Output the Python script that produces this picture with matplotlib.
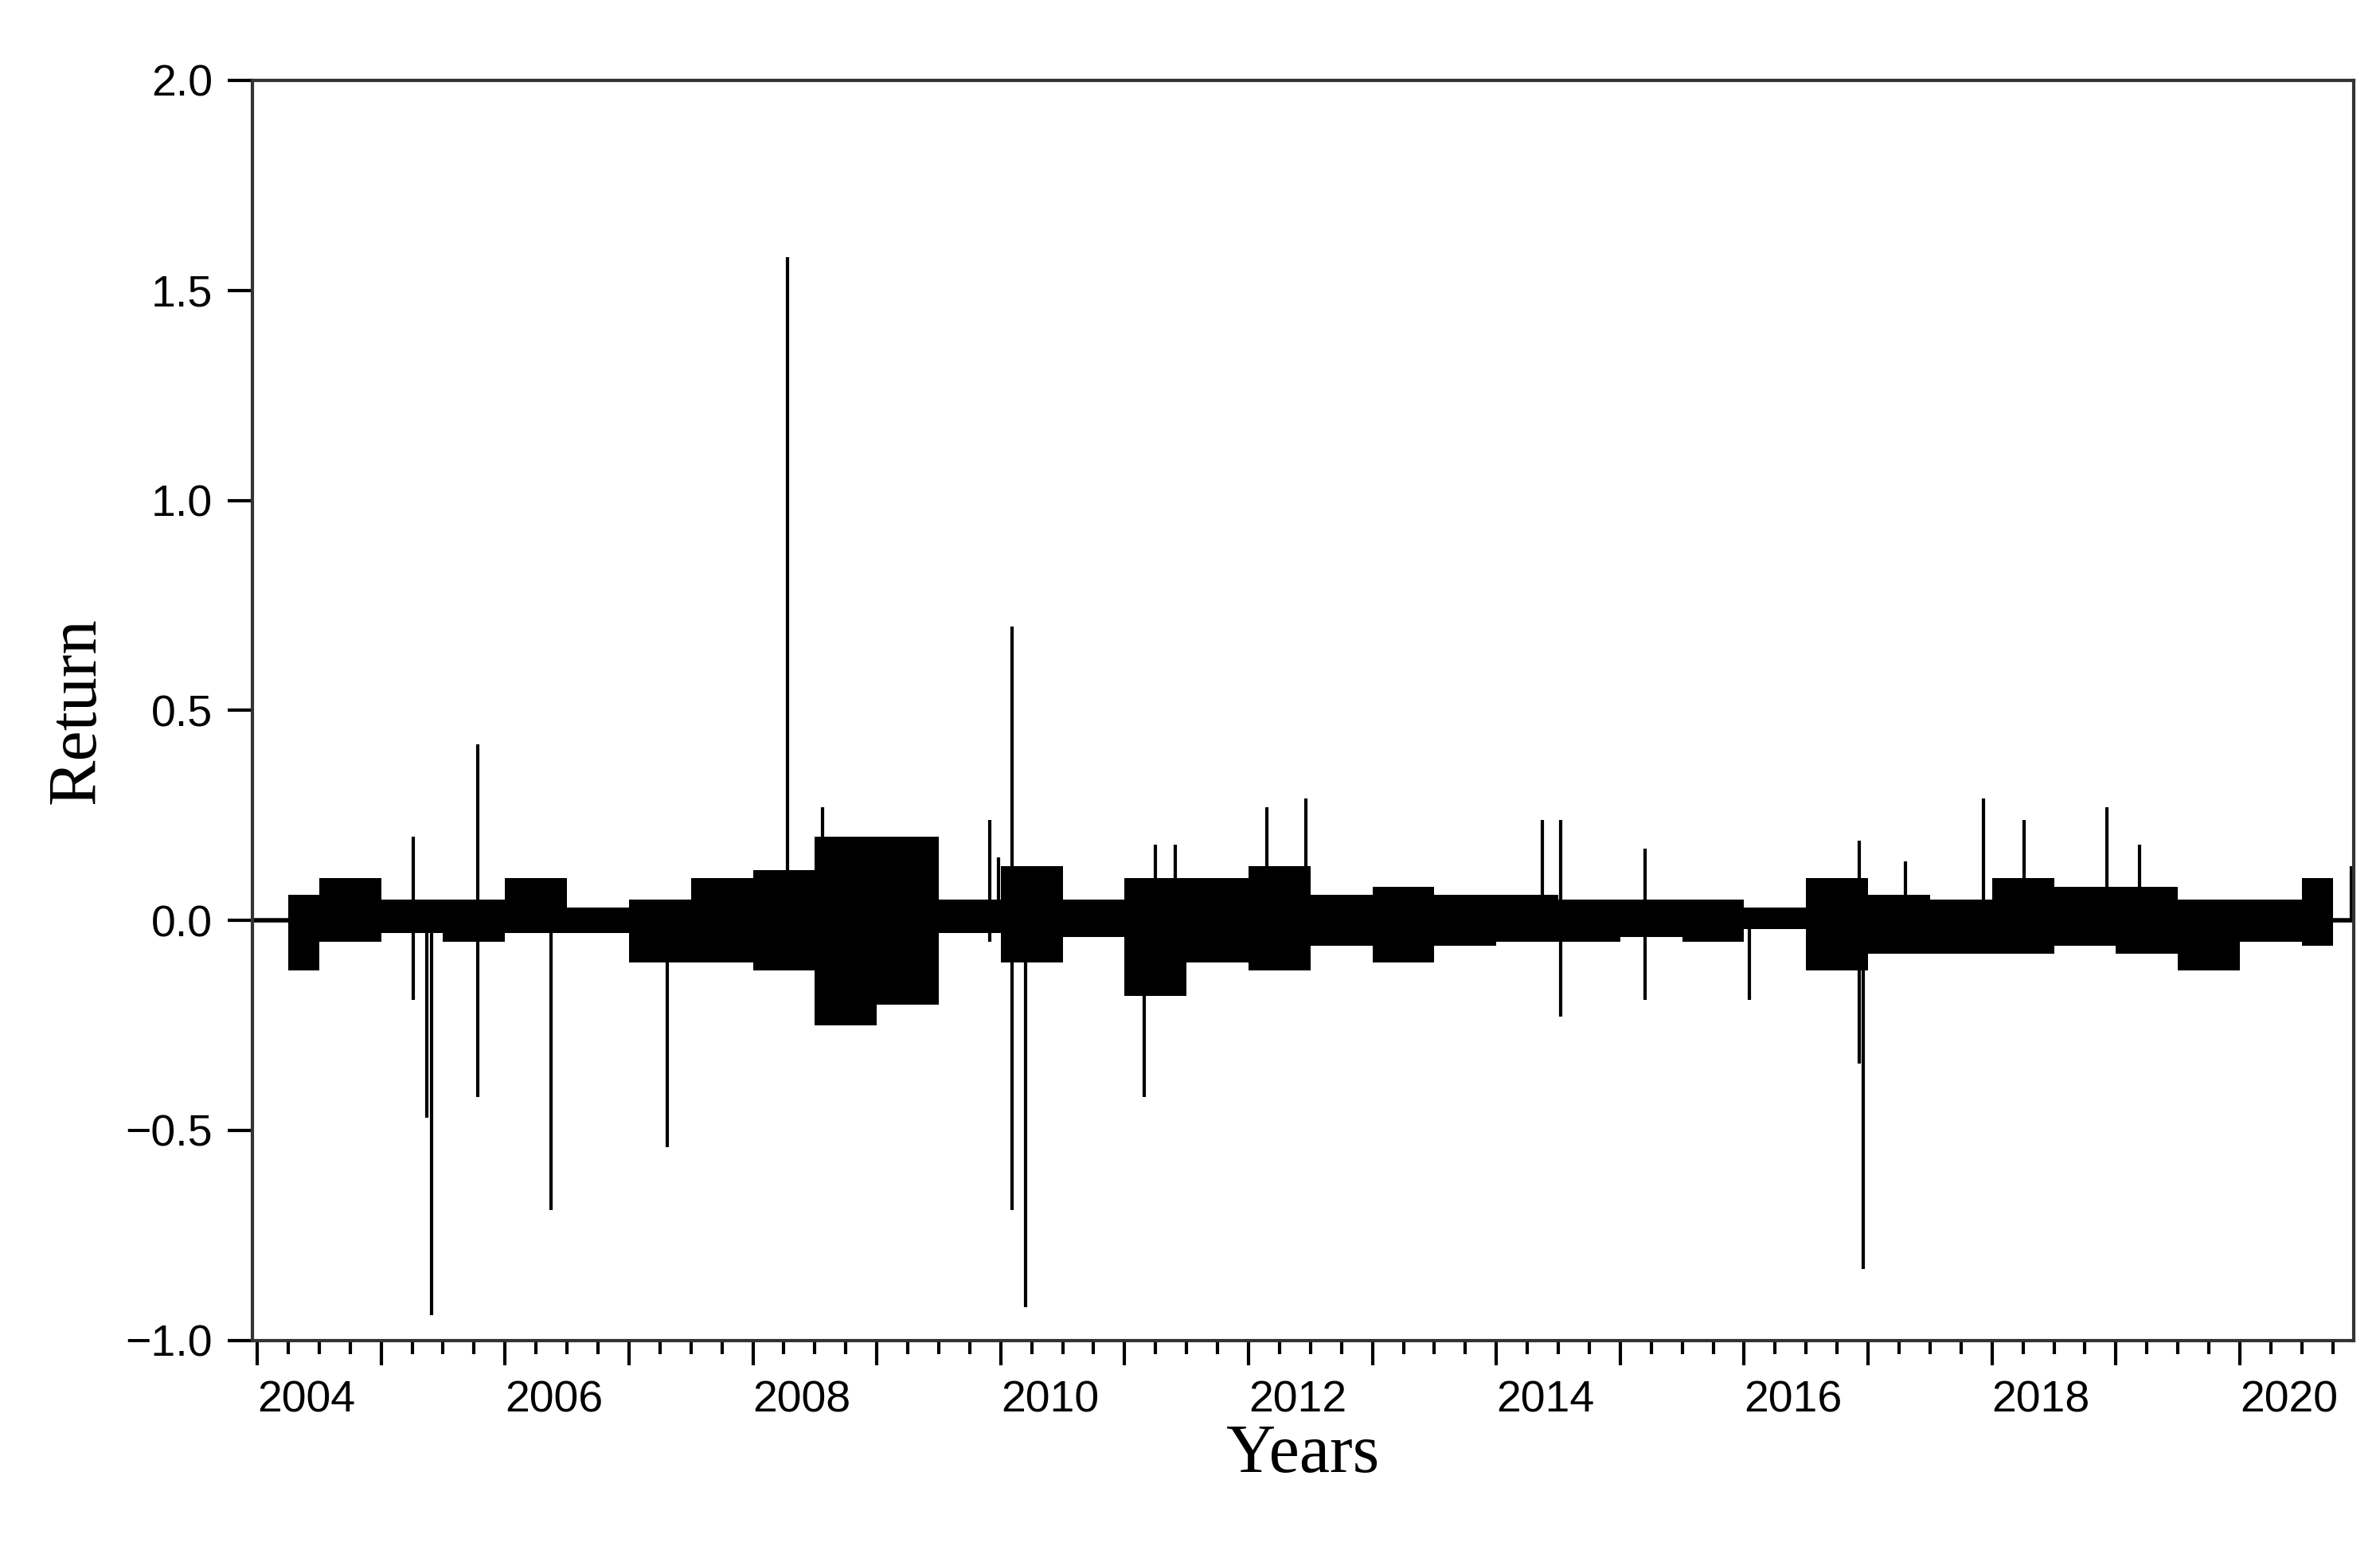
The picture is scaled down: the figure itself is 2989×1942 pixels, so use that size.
import matplotlib
matplotlib.use("Agg")
import matplotlib.pyplot as plt
from matplotlib.ticker import MultipleLocator

# Half-year envelope of the dense return band (mid of period, high, low)
band_mid = [2004.25 + 0.5 * i for i in range(34)]
band_high = [0.06, 0.10, 0.05, 0.05, 0.10, 0.03, 0.05, 0.10, 0.12, 0.20,
             0.20, 0.05, 0.13, 0.05, 0.10, 0.10, 0.13, 0.06, 0.08, 0.06,
             0.06, 0.05, 0.05, 0.05, 0.03, 0.10, 0.06, 0.05, 0.10, 0.08,
             0.08, 0.05, 0.05, 0.10]
band_low = [-0.12, -0.05, -0.03, -0.05, -0.03, -0.03, -0.10, -0.10, -0.12, -0.25,
            -0.20, -0.03, -0.10, -0.04, -0.18, -0.10, -0.12, -0.06, -0.10, -0.06,
            -0.05, -0.05, -0.04, -0.05, -0.02, -0.12, -0.08, -0.08, -0.08, -0.06,
            -0.08, -0.12, -0.05, -0.06]

# Isolated spikes (time, high, low)
spike_t = [2005.26, 2005.37, 2005.41, 2005.78, 2006.37, 2007.31, 2008.28, 2008.56,
           2009.91, 2009.98, 2010.09, 2010.20, 2011.16, 2011.25, 2011.41, 2012.15,
           2012.46, 2014.37, 2014.52, 2015.20, 2016.04, 2016.93, 2016.96, 2017.30,
           2017.93, 2018.26, 2018.93, 2019.19, 2020.90]
spike_hi = [0.20, 0.0, 0.0, 0.42, 0.09, 0.0, 1.58, 0.27,
            0.24, 0.15, 0.70, 0.0, 0.0, 0.18, 0.18, 0.27,
            0.29, 0.24, 0.24, 0.17, 0.0, 0.19, 0.0, 0.14,
            0.29, 0.24, 0.27, 0.18, 0.13]
spike_lo = [-0.19, -0.47, -0.94, -0.42, -0.69, -0.54, 0.0, 0.0,
            -0.05, 0.0, -0.69, -0.92, -0.42, -0.05, 0.0, 0.0,
            0.0, 0.0, -0.23, -0.19, -0.19, -0.34, -0.83, 0.0,
            0.0, 0.0, 0.0, -0.08, 0.0]

years = list(range(2004, 2021))
y_ticks = [-1.0, -0.5, 0.0, 0.5, 1.0, 1.5, 2.0]
y_labels = ["\u22121.0", "\u22120.5", "0.0", "0.5", "1.0", "1.5", "2.0"]

fig = plt.figure(figsize=(29.89, 19.42), dpi=100)
ax = fig.add_axes([0.106, 0.133, 0.883, 0.815])

ax.fill_between(band_mid, band_high, band_low, step="mid", color="black", linewidth=0)
ax.axhline(0, color="black", linewidth=4)
ax.vlines(spike_t, spike_lo, spike_hi, color="black", linewidth=3)

ax.set_xlim(2003.96, 2020.92)
ax.set_ylim(-1.0, 2.0)
ax.xaxis.set_minor_locator(MultipleLocator(0.25))
ax.set_xticks(years)
ax.set_xticklabels([str(y) if y % 2 == 0 else "" for y in years], ha="left")
ax.set_yticks(y_ticks)
ax.set_yticklabels(y_labels)

for s in ax.spines.values():
    s.set_linewidth(3)
    s.set_color("#333333")
ax.tick_params(axis="both", which="major", length=22, width=3, direction="out",
               labelsize=40, pad=14)
ax.tick_params(axis="x", which="minor", length=12, width=3, direction="out")
for lbl in ax.get_xticklabels() + ax.get_yticklabels():
    lbl.set_family("Liberation Sans")

ax.set_xlabel("Years", family="Liberation Serif", fontsize=62, labelpad=2)
ax.set_ylabel("Return", family="Liberation Serif", fontsize=62, labelpad=14)

fig.savefig("out.png", dpi=100)
